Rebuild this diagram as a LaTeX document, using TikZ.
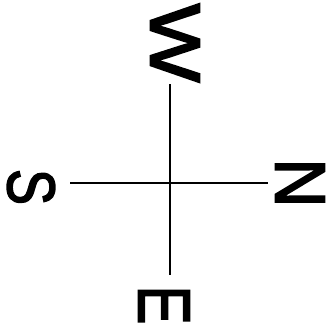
\documentclass[tikz,border=0pt]{standalone}
\usepackage{fontspec}
\setmainfont{Liberation Sans}
\usepackage{graphicx}
\newcommand{\heavy}[1]{\special{pdf:literal 2 Tr 0.25 w}#1\special{pdf:literal 0 Tr}}
\begin{document}
\begin{tikzpicture}[x=1pt,y=-1pt,
  letter/.style={inner sep=0pt, outer sep=0pt, rotate=-90},
  axis/.style={line width=1.8pt}]
\useasboundingbox (0,0) rectangle (328,332);
\coordinate (c) at (170,183);
\coordinate (top) at (170,84);
\coordinate (bot) at (170,275);
\coordinate (lft) at (70,183);
\coordinate (rgt) at (268,183);
\draw[axis] (top) -- (bot);
\draw[axis] (lft) -- (rgt);
\node[letter] (W) at (175,43) {\resizebox{79pt}{49pt}{\heavy{W}}};
\node[letter] (S) at (31,187) {\resizebox{36pt}{47pt}{\heavy{S}}};
\node[letter] (N) at (300,183) {\resizebox{49pt}{49pt}{\heavy{N}}};
\node[letter] (E) at (164,305) {\resizebox{39pt}{51pt}{\heavy{E}}};
\end{tikzpicture}
\end{document}
